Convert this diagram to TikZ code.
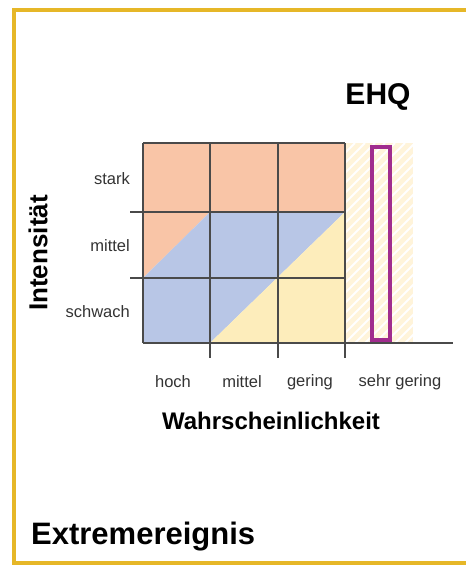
\documentclass[tikz,border=0pt]{standalone}
\usepackage{fontspec}
\setmainfont{Liberation Sans}
\definecolor{framegold}{HTML}{E6B728}
\definecolor{salmon}{HTML}{F9C5A7}
\definecolor{bluefield}{HTML}{B8C6E6}
\definecolor{yellowfield}{HTML}{FDEDBB}
\definecolor{hatchyellow}{HTML}{FFF4DA}
\definecolor{gridgray}{HTML}{4A4A4A}
\definecolor{labelgray}{HTML}{333333}
\definecolor{ehqpurple}{HTML}{A02C8E}

\begin{document}
\begin{tikzpicture}[x=1pt, y=-1pt,
    gridline/.style={draw=gridgray, line width=1.2pt},
    small/.style={font=\fontsize{16.5}{19}\selectfont, text=labelgray, inner sep=0pt},
    big/.style={font=\bfseries\fontsize{24}{27}\selectfont, inner sep=0pt},
    huge/.style={font=\bfseries\fontsize{30}{34}\selectfont, inner sep=0pt}]

  \useasboundingbox (0,0) rectangle (466,566);
  % frame
  \draw[framegold, line width=4pt] (466,10) -- (14,10) -- (14,563) -- (466,563);

  % fields
  \fill[salmon] (143,143) rectangle (345,212);
  \fill[salmon] (143,212) -- (210,212) -- (143,278) -- cycle;
  \fill[bluefield] (210,212) -- (345,212) -- (210,343) -- (143,343) -- (143,278) -- cycle;
  \fill[yellowfield] (210,343) -- (345,212) -- (345,343) -- cycle;

  % sehr gering
  \fill[hatchyellow] (345,143) rectangle (413,343);
  \begin{scope}
    \clip (345,143) rectangle (413,343);
    \foreach \i in {-200,-190,...,70}
      \draw[white, line width=2pt] (345+\i,343) -- ++(200,-200);
  \end{scope}

  % grid
  \draw[gridline] (143,143) -- (345,143);
  \draw[gridline] (143,143) -- (143,343);
  \foreach \y in {212,278}
    \draw[gridline] (130,\y) -- (345,\y);
  \foreach \x in {210,278,345}
    \draw[gridline] (\x,143) -- (\x,358);
  \draw[gridline, line width=1.6pt] (143,343) -- (453,343);

  % EHQ
  \draw[ehqpurple, line width=4pt] (372,147) rectangle (390,340);

  \node[small, anchor=east] (stark) at (130,179) {stark};
  \node[small, anchor=east] (imittel) at (130,246) {mittel};
  \node[small, anchor=east] (schwach) at (130,312) {schwach};

  \node[small] (hoch) at (173,382) {hoch};
  \node[small] (wmittel) at (242,382) {mittel};
  \node[small] (gering) at (310,382) {gering};
  \node[small] (sehrgering) at (400,382) {sehr gering};

  \node[big] (wahrsch) at (271,421) {Wahrscheinlichkeit};
  \node[big, rotate=90, font=\bfseries\fontsize{26}{29}\selectfont] (intens) at (38,253) {Intensität};
  \node[huge] (ehq) at (378,97) {EHQ};
  \node[huge, anchor=west, font=\bfseries\fontsize{31}{35}\selectfont] (extrem) at (31,537) {Extremereignis};
\end{tikzpicture}
\end{document}
